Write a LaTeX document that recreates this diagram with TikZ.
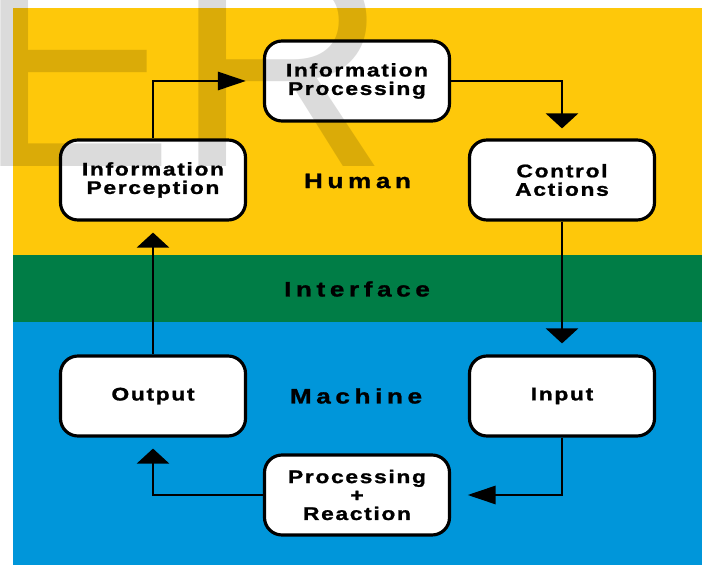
\documentclass[tikz,border=0pt]{standalone}
\usepackage{fontspec}
\setmainfont{Liberation Sans}
\newfontfamily\boxfont{Liberation Sans}[FakeStretch=1.25,LetterSpace=9,FakeBold=1.2]
\newfontfamily\bandfont{Liberation Sans}[FakeStretch=1.25,LetterSpace=22,FakeBold=1.2]
\usetikzlibrary{arrows.meta}
\definecolor{hyel}{RGB}{254,200,10}
\definecolor{igrn}{RGB}{0,125,70}
\definecolor{mblu}{RGB}{0,150,218}

\begin{document}
\begin{tikzpicture}[box/.style={draw,line width=1.8pt,fill=white,rounded corners=0.35cm,
	minimum width=3.7cm,minimum height=1.6cm,align=center,
	font=\boxfont\bfseries\fontsize{10.4}{10.5}\selectfont},
	band/.style={font=\bandfont\bfseries\fontsize{11.9}{12}\selectfont},
	harr/.style={line width=1.6pt,-{Triangle[length=0.56cm,width=0.36cm]}},
	varr/.style={line width=1.6pt,-{Triangle[length=0.3cm,width=0.64cm]}}]
\useasboundingbox (0,0) rectangle (14.12,-11.3);
\fill[hyel] (0.26,-0.16) rectangle (14.04,-5.1);
\fill[igrn] (0.26,-5.1) rectangle (14.04,-6.44);
\fill[mblu] (0.26,-6.44) rectangle (14.04,-11.3);
\node[band] (hum) at (7.15,-3.62) {Human};
\node[band] (intf) at (7.14,-5.78) {Interface};
\node[band] (mach) at (7.12,-7.92) {Machine};
\node[box] (proc) at (7.14,-1.62) {Information\\Processing};
\node[box] (perc) at (3.06,-3.6) {Information\\Perception};
\node[box] (ctrl) at (11.24,-3.6) {Control\\Actions};
\node[box] (out) at (3.06,-7.92) {Output};
\node[box] (inp) at (11.24,-7.92) {Input};
\node[box] (react) at (7.14,-9.9) {Processing\\+\\Reaction};
\draw[harr,shorten >=0.34cm] (perc.north) |- (proc.west);
\draw[varr,shorten >=0.2cm] (proc.east) -| (ctrl.north);
\draw[varr,shorten >=0.22cm] (ctrl.south) -- (inp.north);
\draw[harr,shorten >=0.33cm] (inp.south) |- (react.east);
\draw[varr,shorten >=0.22cm] (react.west) -| (out.south);
\draw[varr,shorten >=0.22cm] (out.north) -- (perc.south);
% watermark
\node[anchor=base west,inner sep=0,text opacity=0.14,font=\fontsize{169}{169}\selectfont] (wm) at (-0.48,-3.34) {ER};
\end{tikzpicture}
\end{document}
